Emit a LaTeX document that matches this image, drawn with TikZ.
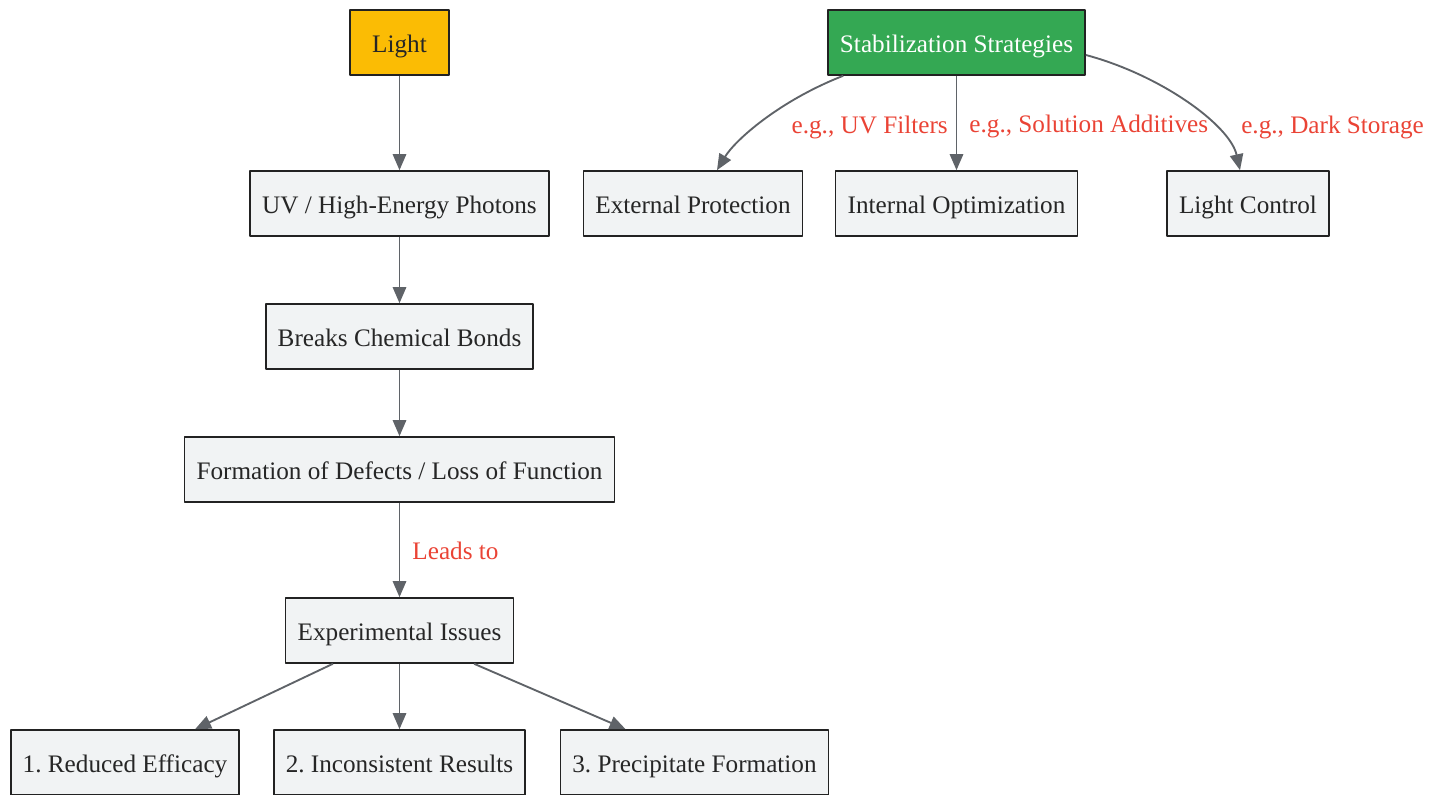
\documentclass[tikz,border=0pt]{standalone}
\usepackage{fontspec}
\setmainfont{Liberation Serif}
\usetikzlibrary{arrows.meta,calc,positioning}
\definecolor{boxfill}{HTML}{F1F3F4}
\definecolor{boxline}{HTML}{222222}
\definecolor{edgegray}{HTML}{5F6368}
\definecolor{labelred}{HTML}{EA4335}
\definecolor{lightyellow}{HTML}{FBBC04}
\definecolor{stabgreen}{HTML}{34A853}
\tikzset{
  box/.style={draw=boxline, fill=boxfill, line width=1.2pt, text=black!85,
    minimum height=48.75pt, inner xsep=9pt, inner ysep=0pt,
    text height=15.5pt, text depth=0.7pt},
  edge/.style={draw=edgegray, line width=1.4pt, -{Triangle[length=12pt,width=10pt]}},
  lbl/.style={text=labelred, inner sep=0pt, text height=15.5pt, text depth=0.7pt},
}
\frenchspacing
\begin{document}
\begin{tikzpicture}[x=0.75pt, y=-0.75pt, font=\fontsize{18.9}{23}\selectfont, line join=round]
\useasboundingbox (0,0) rectangle (1442,795);
\def\lx{399.5} \def\sx{956.5}
\node[box, fill=lightyellow, minimum width=74.25pt] (light) at (\lx,42.5) {Light};
\node[box, fill=stabgreen, text=white] (stab) at (\sx,42.5) {Stabilization Strategies};
\node[box] (uv) at (\lx,203.5) {UV / High-Energy Photons};
\node[box] (ext) at (693,203.5) {External Protection};
\node[box] (intern) at (\sx,203.5) {Internal Optimization};
\node[box] (ctl) at (1248,203.5) {Light Control};
\node[box] (bonds) at (\lx,336.5) {Breaks Chemical Bonds};
\node[box] (defects) at (\lx,469.5) {Formation of Defects / Loss of Function};
\node[box] (issues) at (\lx,630.5) {Experimental Issues};
\node[box] (eff) at (125,762.5) {1. Reduced Efficacy};
\node[box] (incons) at (\lx,762.5) {2. Inconsistent Results};
\node[box] (precip) at (694.5,762.5) {3. Precipitate Formation};

\draw[edge] (light) -- (uv);
\draw[edge] (uv) -- (bonds);
\draw[edge] (bonds) -- (defects);
\draw[edge] (defects) -- (issues) node[midway, right=9pt, lbl] {Leads to};
\draw[edge] ($(issues.south west)+(48,0)$) -- ($(eff.north east)+(-45,0)$);
\draw[edge] (issues) -- (incons);
\draw[edge] ($(issues.south east)+(-40,0)$) -- ($(precip.north west)+(66,0)$);

\draw[edge] ($(stab.south west)+(16,0)$) .. controls +(-64,25) and +(18,-30) .. ($(ext.north)+(24,0)$);
\draw[edge] (stab) -- (intern) node[midway, right=9pt, lbl] {e.g., Solution Additives};
\draw[edge] ($(stab.east)+(0,12.5)$) .. controls +(75,20) and +(-10,-45) .. ($(ctl.north)+(-8,0)$);
\node[lbl, anchor=east] (uvlbl) at (948,124) {e.g., UV Filters};
\node[lbl, anchor=west] (darklbl) at (1241,124) {e.g., Dark Storage};
\end{tikzpicture}
\end{document}
